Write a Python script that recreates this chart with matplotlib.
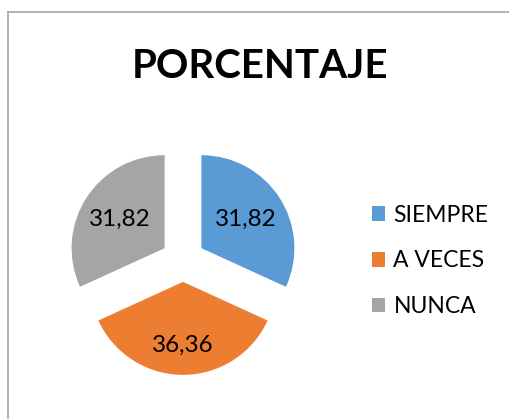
import matplotlib
matplotlib.use("Agg")
import matplotlib.pyplot as plt
from matplotlib.lines import Line2D
import numpy as np

# data
categories = ["SIEMPRE", "A VECES", "NUNCA"]
values = [31.82, 36.36, 31.82]
labels_txt = ["31,82", "36,36", "31,82"]
colors = ["#5B9BD5", "#ED7D31", "#A5A5A5"]

plt.rcParams['font.family'] = ['Lato', 'DejaVu Sans']

W, H = 509, 419
fig = plt.figure(figsize=(W / 100, H / 100), dpi=100)

# pie axes: centre at (183, 260) px, radius 93 px
R = 93.0
half = 150.0
cx, cy = 183, 260
ax = fig.add_axes([(cx - half) / W, (H - cy - half) / H, 2 * half / W, 2 * half / H])
wedges, _ = ax.pie(values, colors=colors, startangle=90, counterclock=False,
                   explode=[0.235] * 3, radius=1.0)
ax.set_xlim(-half / R, half / R)
ax.set_ylim(-half / R, half / R)
ax.set_aspect('auto')

# value labels inside slices
dist = [0.57, 0.68, 0.57]
for w, t, d in zip(wedges, labels_txt, dist):
    a = np.deg2rad((w.theta1 + w.theta2) / 2)
    ox, oy = 0.235 * np.cos(a), 0.235 * np.sin(a)
    ax.text(ox + d * np.cos(a), oy + d * np.sin(a), t, ha="center", va="center",
            fontsize=17.5, color="black")

fig.text(260 / W, 1 - 66 / H, "PORCENTAJE", ha="center", va="center",
         fontsize=29, fontweight="bold", color="black")

leg = fig.legend(wedges, categories, loc="upper left",
                 bbox_to_anchor=(351 / W, 1 - 184 / H), frameon=False,
                 fontsize=16.5, handlelength=0.6, handleheight=0.6,
                 handletextpad=0.35, labelspacing=1.08)

# chart border (only top and left visible)
fig.add_artist(Line2D([8 / W, 8 / W], [0, 1 - 12.5 / H], color="#A6A6A6", lw=1.2,
                      transform=fig.transFigure))
fig.add_artist(Line2D([8 / W, 1], [1 - 12.5 / H, 1 - 12.5 / H], color="#A6A6A6", lw=1.2,
                      transform=fig.transFigure))

fig.savefig("out.png", dpi=100)
